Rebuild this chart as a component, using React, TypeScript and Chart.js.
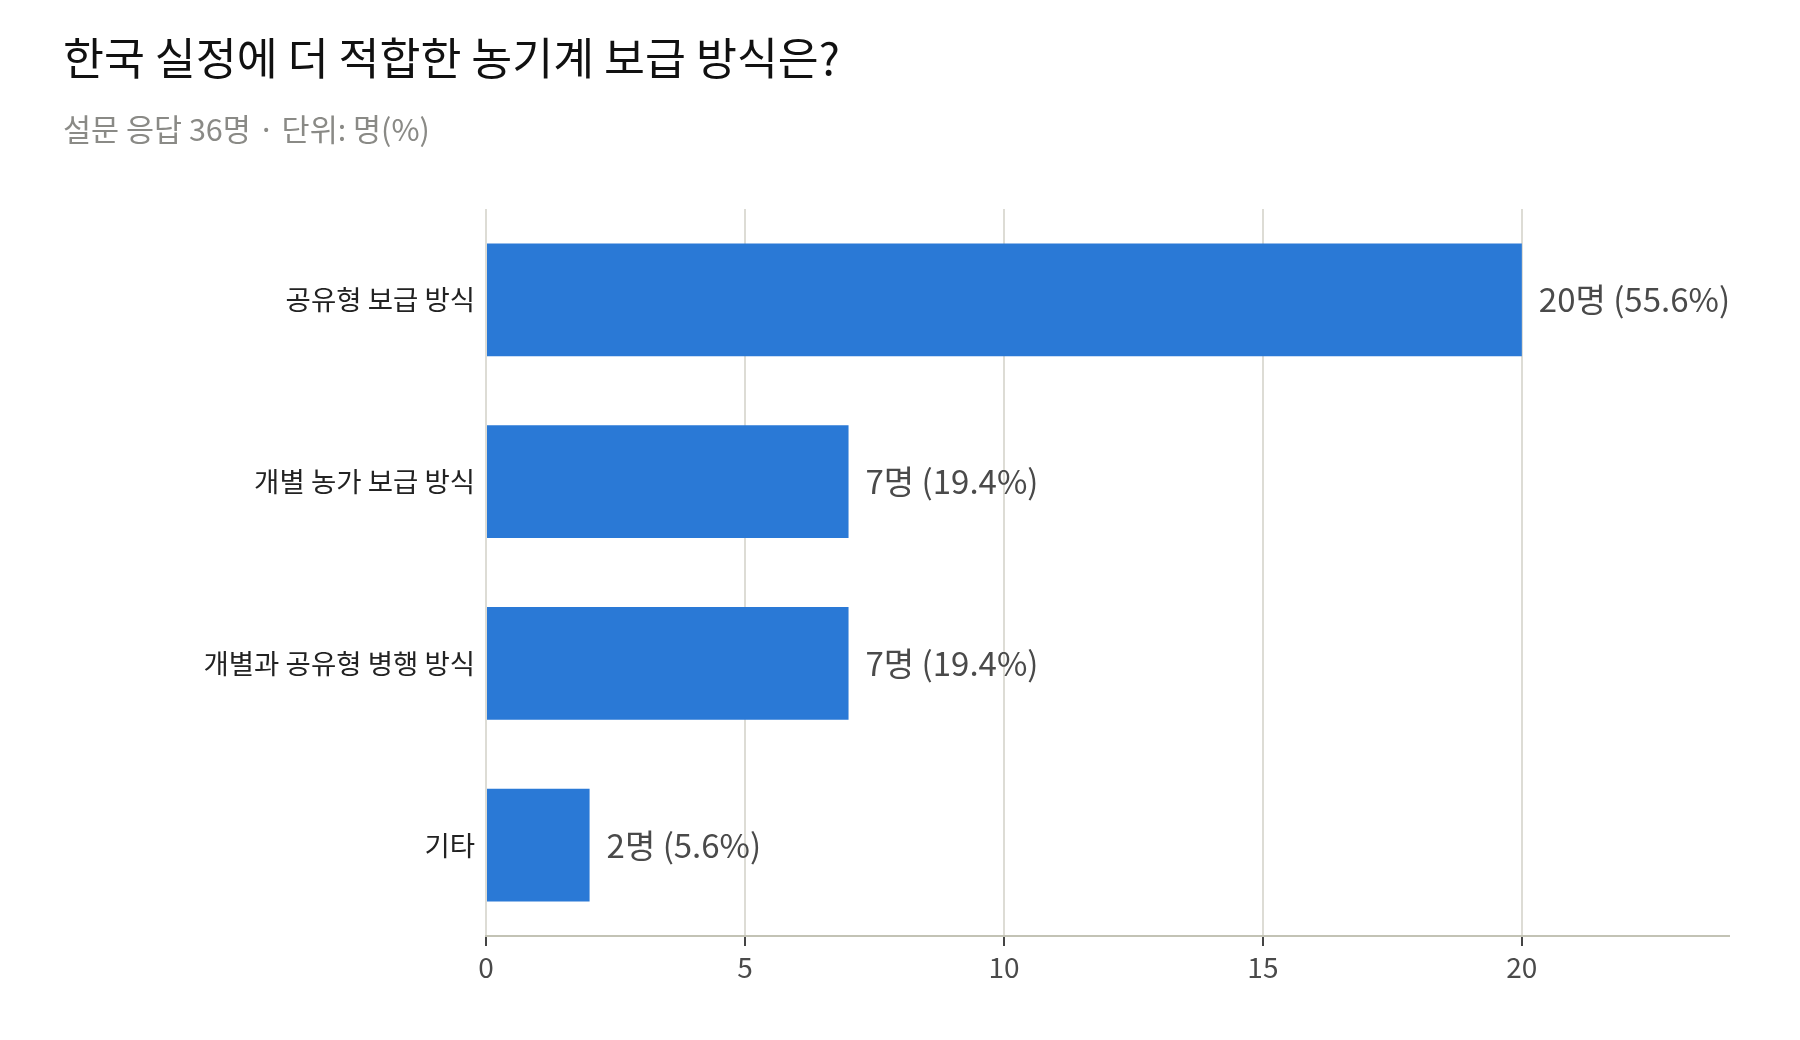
import { useEffect, useRef } from "react";
import { Chart, registerables } from "chart.js";

Chart.register(...registerables);

const FONT = "'Noto Sans CJK KR', 'Noto Sans', sans-serif";

const categories = ["공유형 보급 방식", "개별 농가 보급 방식", "개별과 공유형 병행 방식", "기타"];
const counts = [20, 7, 7, 2];
const percents = [55.6, 19.4, 19.4, 5.6];
const xTicks = [0, 5, 10, 15, 20];

const valueLabels = {
  id: "valueLabels",
  afterDatasetsDraw(chart: Chart) {
    const ctx = chart.ctx;
    const meta = chart.getDatasetMeta(0);
    ctx.save();
    ctx.font = `33px ${FONT}`;
    ctx.fillStyle = "#4a4a4a";
    ctx.textAlign = "left";
    ctx.textBaseline = "middle";
    meta.data.forEach((bar: any, i: number) => {
      ctx.fillText(`${counts[i]}명 (${percents[i]}%)`, bar.x + 17, bar.y);
    });
    ctx.restore();
  },
};

export default function App() {
  const chartRef = useRef<HTMLCanvasElement>(null);

  useEffect(() => {
    if (!chartRef.current) return;
    const chart = new Chart(chartRef.current, {
      type: "bar",
      data: {
        labels: categories,
        datasets: [
          {
            data: counts,
            backgroundColor: "#2a79d6",
            barPercentage: 0.62,
            categoryPercentage: 1,
          },
        ],
      },
      options: {
        indexAxis: "y",
        responsive: false,
        animation: false,
        devicePixelRatio: 1,
        layout: { padding: { top: 31, left: 63, right: 71, bottom: 44 } },
        scales: {
          x: {
            min: 0,
            max: 24,
            afterFit: (scale: any) => {
              scale.height = 60;
            },
            afterBuildTicks: (scale: any) => {
              scale.ticks = xTicks.map((v) => ({ value: v }));
            },
            grid: {
              color: "#dddcd5",
              lineWidth: 2,
              tickColor: "#444",
              tickWidth: 2,
              tickLength: 10,
            },
            border: { color: "#c3c3b5", width: 2 },
            ticks: {
              color: "#4a4a4a",
              padding: 5,
              font: { family: FONT, size: 28 },
            },
          },
          y: {
            afterFit: (scale: any) => {
              scale.width = 423;
            },
            grid: { display: false, drawTicks: false },
            border: { display: false },
            ticks: {
              color: "#222",
              padding: 11,
              font: { family: FONT, size: 27.5 },
            },
          },
        },
        plugins: {
          legend: { display: false },
          tooltip: { enabled: false },
          title: {
            display: true,
            text: "한국 실정에 더 적합한 농기계 보급 방식은?",
            align: "start",
            color: "#111",
            font: { family: FONT, size: 44.5, weight: "normal" },
            padding: { top: 0, bottom: 0 },
          },
          subtitle: {
            display: true,
            text: "설문 응답 36명 · 단위: 명(%)",
            align: "start",
            color: "#8a8a86",
            font: { family: FONT, size: 30.5 },
            padding: { top: 27, bottom: 61 },
          },
        },
      },
      plugins: [valueLabels],
    });
    return () => chart.destroy();
  }, []);

  return (
    <div style={{ position: "fixed", left: 0, top: 0, width: 1800, height: 1040, background: "#fff" }}>
      <canvas ref={chartRef} width={1800} height={1040} style={{ width: 1800, height: 1040 }} />
    </div>
  );
}
